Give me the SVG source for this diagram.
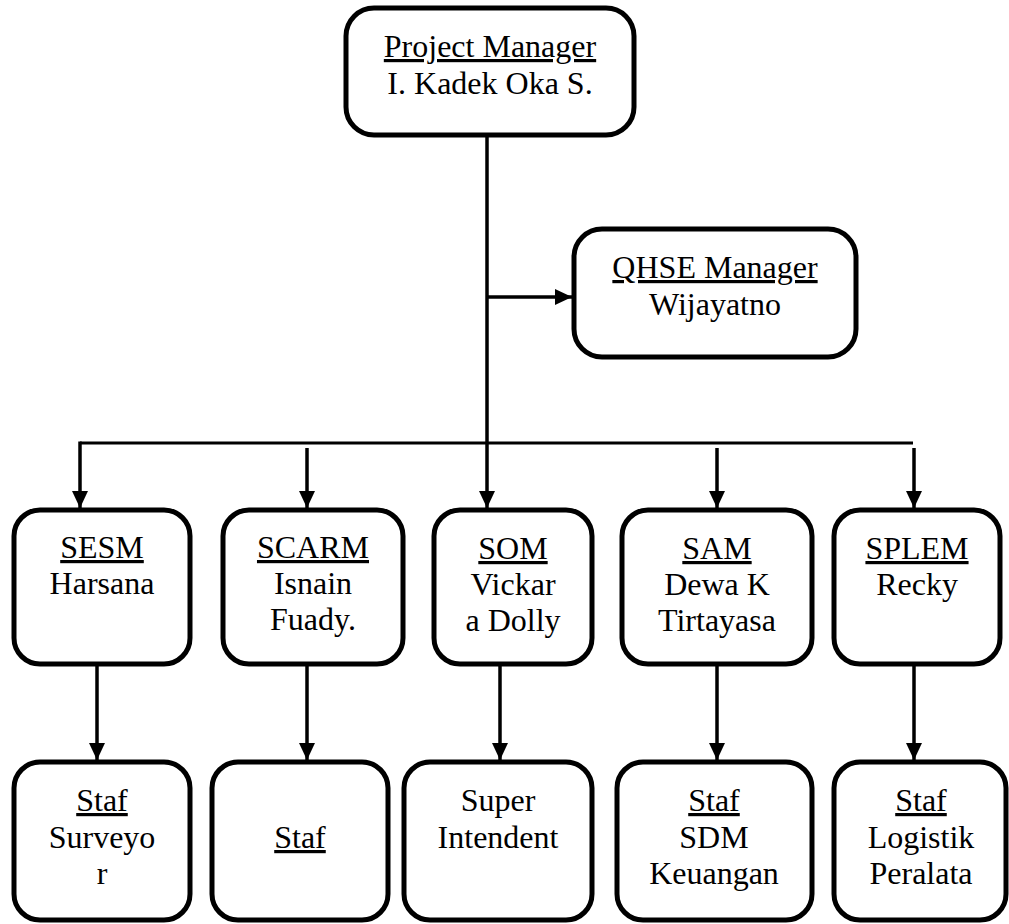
<svg xmlns="http://www.w3.org/2000/svg" width="1009" height="924" viewBox="0 0 1009 924">
<style>
.box{fill:#fff;stroke:#000;stroke-width:5}
text{font-family:'Liberation Serif','Tinos','Times New Roman','DejaVu Serif',serif;font-size:32px;fill:#000;text-anchor:middle}
.u{text-decoration:underline}
.c{stroke:#000;stroke-width:3.5;fill:none}
</style>
<defs>
<marker id="ah" markerUnits="userSpaceOnUse" markerWidth="17" markerHeight="16" refX="17" refY="8" orient="auto">
<path d="M0,0 L17,8 L0,16 z" fill="#000"/>
</marker>
</defs>
<rect width="1009" height="924" fill="#fff"/>
<g id="connectors">
<line class="c" x1="487" y1="135" x2="487" y2="508" marker-end="url(#ah)"/>
<line class="c" x1="487" y1="297" x2="572" y2="297" marker-end="url(#ah)"/>
<line class="c" x1="80" y1="443" x2="913" y2="443" style="stroke-width:3"/>
<line class="c" x1="80" y1="441.5" x2="80" y2="508" marker-end="url(#ah)"/>
<line class="c" x1="307" y1="448" x2="307" y2="508" marker-end="url(#ah)"/>
<line class="c" x1="717" y1="448" x2="717" y2="508" marker-end="url(#ah)"/>
<line class="c" x1="914" y1="448" x2="914" y2="508" marker-end="url(#ah)"/>
<line class="c" x1="97" y1="664" x2="97" y2="760" marker-end="url(#ah)"/>
<line class="c" x1="307" y1="664" x2="307" y2="760" marker-end="url(#ah)"/>
<line class="c" x1="500" y1="664" x2="500" y2="760" marker-end="url(#ah)"/>
<line class="c" x1="717" y1="664" x2="717" y2="760" marker-end="url(#ah)"/>
<line class="c" x1="914" y1="664" x2="914" y2="760" marker-end="url(#ah)"/>
</g>
<g id="pm">
<rect class="box" x="346" y="8" width="288" height="127" rx="28"/>
<text class="u" x="490" y="57">Project Manager</text>
<text x="490" y="94">I. Kadek Oka S.</text>
</g>
<g id="qhse">
<rect class="box" x="574" y="229" width="282" height="128" rx="28"/>
<text class="u" x="715" y="278">QHSE Manager</text>
<text x="715" y="315">Wijayatno</text>
</g>
<g id="sesm">
<rect class="box" x="14" y="510" width="176" height="154" rx="26"/>
<text class="u" x="102" y="558">SESM</text>
<text x="102" y="594">Harsana</text>
</g>
<g id="scarm">
<rect class="box" x="223" y="510" width="180" height="154" rx="26"/>
<text class="u" x="313" y="558">SCARM</text>
<text x="313" y="594">Isnain</text>
<text x="313" y="630">Fuady.</text>
</g>
<g id="som">
<rect class="box" x="434" y="510" width="158" height="154" rx="26"/>
<text class="u" x="513" y="559">SOM</text>
<text x="513" y="595">Vickar</text>
<text x="513" y="631">a Dolly</text>
</g>
<g id="sam">
<rect class="box" x="622" y="510" width="190" height="154" rx="26"/>
<text class="u" x="717" y="559">SAM</text>
<text x="717" y="595">Dewa K</text>
<text x="717" y="631">Tirtayasa</text>
</g>
<g id="splem">
<rect class="box" x="834" y="510" width="166" height="154" rx="26"/>
<text class="u" x="917" y="559">SPLEM</text>
<text x="917" y="595">Recky</text>
</g>
<g id="staf-surveyor">
<rect class="box" x="14" y="762" width="176" height="158" rx="26"/>
<text class="u" x="102" y="811">Staf</text>
<text x="102" y="848">Surveyo</text>
<text x="102" y="884">r</text>
</g>
<g id="staf">
<rect class="box" x="212" y="762" width="176" height="158" rx="26"/>
<text class="u" x="300" y="848">Staf</text>
</g>
<g id="super-intendent">
<rect class="box" x="404" y="762" width="188" height="158" rx="26"/>
<text x="498" y="811">Super</text>
<text x="498" y="848">Intendent</text>
</g>
<g id="staf-sdm">
<rect class="box" x="617" y="762" width="195" height="158" rx="26"/>
<text class="u" x="714" y="811">Staf</text>
<text x="714" y="848">SDM</text>
<text x="714" y="884">Keuangan</text>
</g>
<g id="staf-logistik">
<rect class="box" x="834" y="762" width="172" height="158" rx="26"/>
<text class="u" x="921" y="811">Staf</text>
<text x="921" y="848">Logistik</text>
<text x="921" y="884">Peralata</text>
</g>
</svg>
